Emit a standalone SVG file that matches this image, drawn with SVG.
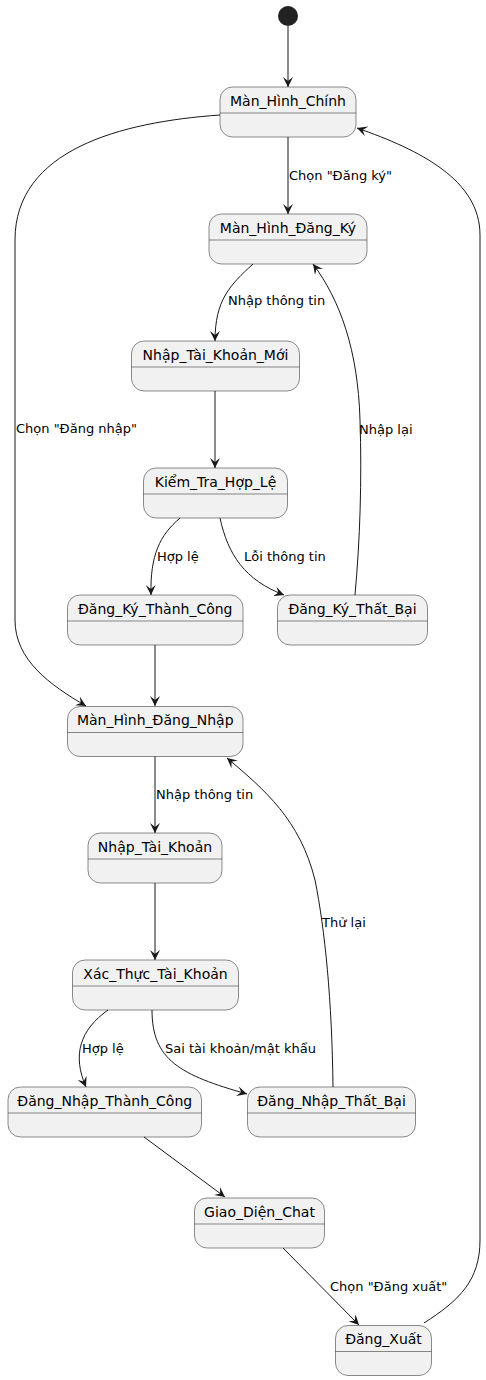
<svg xmlns="http://www.w3.org/2000/svg" width="486" height="1380" viewBox="0 0 486 1380">
<style>
.st rect{fill:#F1F1F1;stroke:#181818;stroke-width:0.5}
.st line{stroke:#181818;stroke-width:0.5}
.st text{font-family:"DejaVu Sans",sans-serif;font-size:14px;fill:#000;text-anchor:middle}
.edges path{fill:none;stroke:#181818;stroke-width:1}
.lbl{font-family:"DejaVu Sans",sans-serif;font-size:13px;fill:#000}
</style>
<defs>
<marker id="ah" viewBox="0 0 10 10" refX="10" refY="5" markerWidth="10" markerHeight="10" markerUnits="userSpaceOnUse" orient="auto">
<path d="M0,0 L10,5 L0,10 L4,5 Z" fill="#181818"/>
</marker>
</defs>
<g id="start"><circle cx="288" cy="16" r="10" fill="#222222"/></g>
<g id="ManHinhChinh" class="st"><rect x="220" y="87" width="136" height="50" rx="12.5"/><line x1="220" y1="113" x2="356" y2="113"/><text x="288" y="105.5">Màn_Hình_Chính</text></g>
<g id="ManHinhDangKy" class="st"><rect x="209" y="214" width="158" height="50" rx="12.5"/><line x1="209" y1="240" x2="367" y2="240"/><text x="288" y="232.5">Màn_Hình_Đăng_Ký</text></g>
<g id="NhapTaiKhoanMoi" class="st"><rect x="131.5" y="341" width="168" height="50" rx="12.5"/><line x1="131.5" y1="367" x2="299.5" y2="367"/><text x="215.5" y="359.5">Nhập_Tài_Khoản_Mới</text></g>
<g id="KiemTraHopLe" class="st"><rect x="143.5" y="468" width="144" height="50" rx="12.5"/><line x1="143.5" y1="494" x2="287.5" y2="494"/><text x="215.5" y="486.5">Kiểm_Tra_Hợp_Lệ</text></g>
<g id="DangKyThanhCong" class="st"><rect x="67.5" y="595" width="175.5" height="50" rx="12.5"/><line x1="67.5" y1="621" x2="243" y2="621"/><text x="155.25" y="613.5">Đăng_Ký_Thành_Công</text></g>
<g id="DangKyThatBai" class="st"><rect x="277.5" y="595" width="150" height="50" rx="12.5"/><line x1="277.5" y1="621" x2="427.5" y2="621"/><text x="352.5" y="613.5">Đăng_Ký_Thất_Bại</text></g>
<g id="ManHinhDangNhap" class="st"><rect x="67.5" y="706.5" width="175.5" height="50" rx="12.5"/><line x1="67.5" y1="732.5" x2="243" y2="732.5"/><text x="155.25" y="725">Màn_Hình_Đăng_Nhập</text></g>
<g id="NhapTaiKhoan" class="st"><rect x="88" y="833" width="134" height="50" rx="12.5"/><line x1="88" y1="859" x2="222" y2="859"/><text x="155" y="851.5">Nhập_Tài_Khoản</text></g>
<g id="XacThucTaiKhoan" class="st"><rect x="72.5" y="960" width="166" height="50" rx="12.5"/><line x1="72.5" y1="986" x2="238.5" y2="986"/><text x="155.5" y="978.5">Xác_Thực_Tài_Khoản</text></g>
<g id="DangNhapThanhCong" class="st"><rect x="8" y="1087" width="193.5" height="50" rx="12.5"/><line x1="8" y1="1113" x2="201.5" y2="1113"/><text x="104.75" y="1105.5">Đăng_Nhập_Thành_Công</text></g>
<g id="DangNhapThatBai" class="st"><rect x="247.5" y="1087" width="168" height="50" rx="12.5"/><line x1="247.5" y1="1113" x2="415.5" y2="1113"/><text x="331.5" y="1105.5">Đăng_Nhập_Thất_Bại</text></g>
<g id="GiaoDienChat" class="st"><rect x="194.5" y="1198" width="130" height="50" rx="12.5"/><line x1="194.5" y1="1224" x2="324.5" y2="1224"/><text x="259.5" y="1216.5">Giao_Diện_Chat</text></g>
<g id="DangXuat" class="st"><rect x="335.5" y="1325.5" width="96" height="50" rx="12.5"/><line x1="335.5" y1="1351.5" x2="431.5" y2="1351.5"/><text x="383.5" y="1344">Đăng_Xuất</text></g>
<g id="connectors" class="edges">
<path d="M288,26 L288,87" marker-end="url(#ah)"/>
<path d="M288,137 L288,214" marker-end="url(#ah)"/>
<path d="M220,115 C120,122 15,150 15,240 L15,620 C15,660 50,685 86,706" marker-end="url(#ah)"/>
<path d="M253,264 C230,285 215,300 215,341" marker-end="url(#ah)"/>
<path d="M215,391 L215,468" marker-end="url(#ah)"/>
<path d="M180,518 C160,535 150,555 151,595" marker-end="url(#ah)"/>
<path d="M220,518 C228,555 245,580 284,595" marker-end="url(#ah)"/>
<path d="M355,595 C360,540 362,480 360,420 C358,350 340,300 313,264" marker-end="url(#ah)"/>
<path d="M155,645 L155,706" marker-end="url(#ah)"/>
<path d="M155,756.5 L155,833" marker-end="url(#ah)"/>
<path d="M155,883 L155,960" marker-end="url(#ah)"/>
<path d="M108,1010 C80,1030 72,1055 86,1087" marker-end="url(#ah)"/>
<path d="M152,1010 C152,1060 180,1075 247,1094" marker-end="url(#ah)"/>
<path d="M333,1087 C332,1000 325,930 315,880 C300,820 265,790 227,758" marker-end="url(#ah)"/>
<path d="M144,1137 L225,1197" marker-end="url(#ah)"/>
<path d="M283,1248 L359,1325" marker-end="url(#ah)"/>
<path d="M424,1323 C460,1300 480,1280 480,1240 L480,235 C480,180 420,150 357,128" marker-end="url(#ah)"/>
</g>
<g id="labels">
<text class="lbl" x="289" y="180">Chọn "Đăng ký"</text>
<text class="lbl" x="16" y="433">Chọn "Đăng nhập"</text>
<text class="lbl" x="228" y="305">Nhập thông tin</text>
<text class="lbl" x="157" y="561">Hợp lệ</text>
<text class="lbl" x="244" y="561">Lỗi thông tin</text>
<text class="lbl" x="359" y="434">Nhập lại</text>
<text class="lbl" x="156" y="799">Nhập thông tin</text>
<text class="lbl" x="322" y="927">Thử lại</text>
<text class="lbl" x="82" y="1053">Hợp lệ</text>
<text class="lbl" x="165" y="1053">Sai tài khoản/mật khẩu</text>
<text class="lbl" x="330" y="1291">Chọn "Đăng xuất"</text>
</g>
</svg>
